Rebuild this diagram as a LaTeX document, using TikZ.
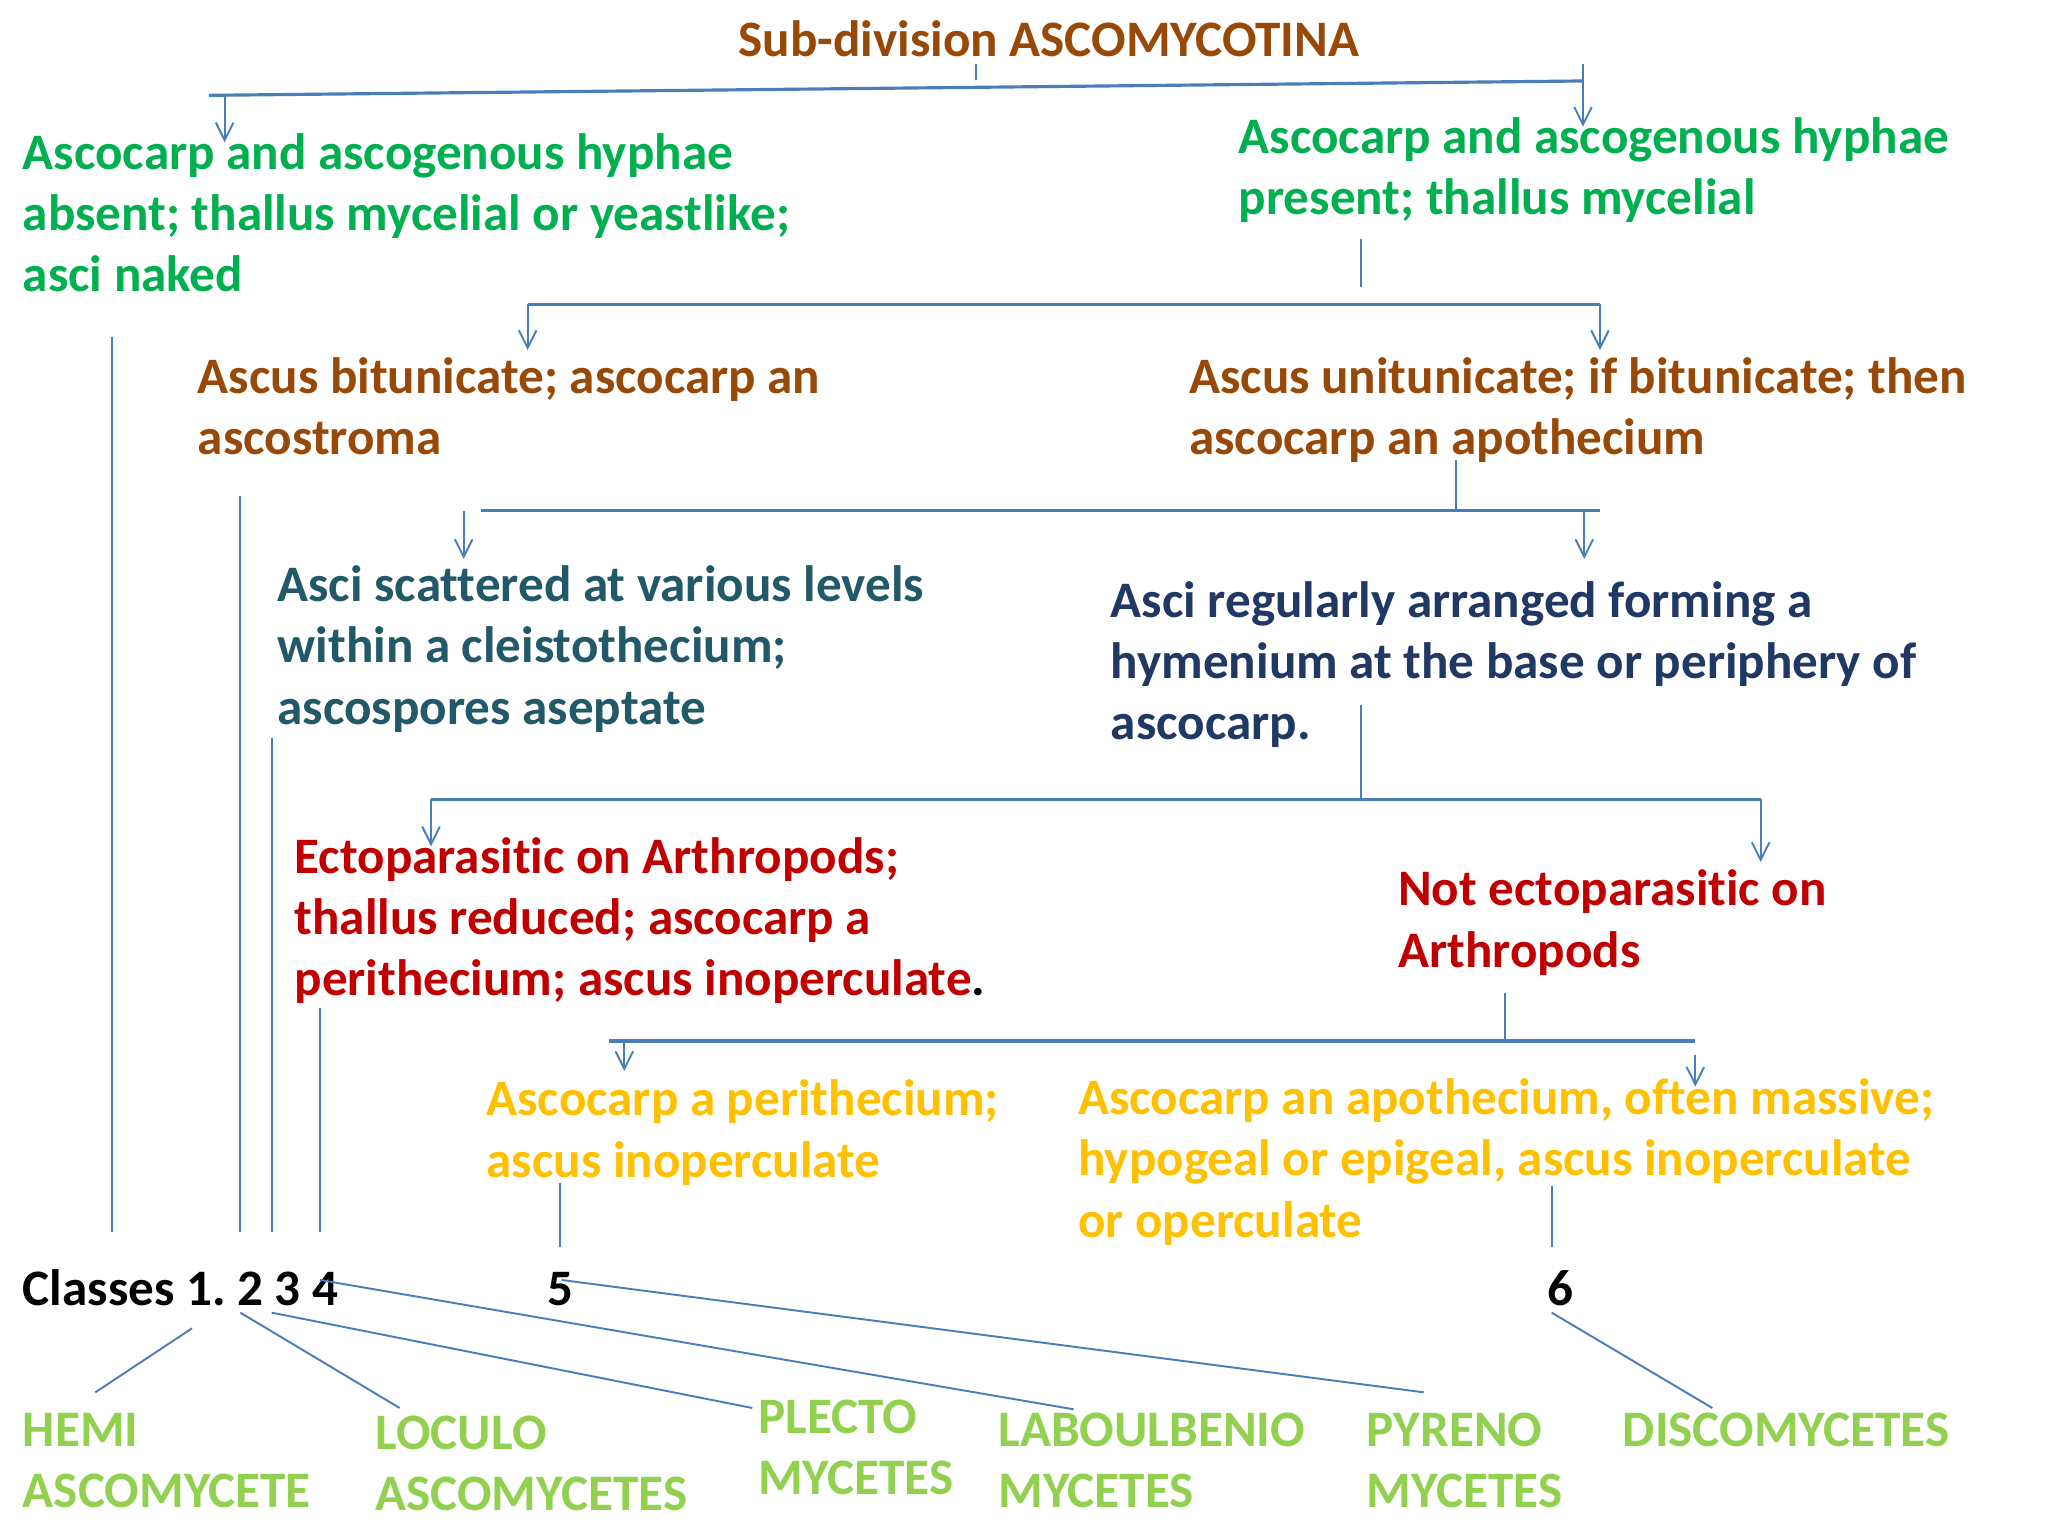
\documentclass[tikz,border=0pt]{standalone}
\usepackage{fontspec}
\setmainfont{Carlito}[Ligatures=NoCommon]
\usetikzlibrary{arrows.meta}
\definecolor{cbrown}{HTML}{984807}
\definecolor{cgreen}{HTML}{00B050}
\definecolor{cteal}{HTML}{215968}
\definecolor{cnavy}{HTML}{1F3864}
\definecolor{cred}{HTML}{C00000}
\definecolor{cyel}{HTML}{FFC000}
\definecolor{clgreen}{HTML}{92D050}
\definecolor{cline}{HTML}{4A7EBB}
\newcommand\fs{\fontsize{14.55pt}{17.45pt}\selectfont\bfseries\frenchspacing}
\tikzset{
  txt/.style={anchor=north west, inner sep=0pt, align=left, font=\fs},
  hline/.style={draw=cline, line width=0.9pt},
  vline/.style={draw=cline, line width=0.55pt},
  arr/.style={draw=cline, line width=0.55pt, -{Straight Barb[length=5pt,width=5pt]}},
}
\begin{document}
\begin{tikzpicture}[x=0.01306cm, y=-0.01306cm]
\useasboundingbox[fill=white] (0,0) rectangle (1568,1176);

% text nodes (north = line-1 centre - 22)
\node[txt, text=cbrown] (title) at (565,10) {\strut Sub-division ASCOMYCOTINA};
\node[txt, text=cgreen] (g1) at (17,96) {\strut Ascocarp and ascogenous hyphae\\absent; thallus mycelial or yeastlike;\\asci naked};
\node[txt, text=cgreen] (g2) at (948,84) {\strut Ascocarp and ascogenous hyphae\\present; thallus mycelial};
\node[txt, text=cbrown] (b1) at (151,268) {\strut Ascus bitunicate; ascocarp an\\ascostroma};
\node[txt, text=cbrown] (b2) at (910,268) {\strut Ascus unitunicate; if bitunicate; then\\ascocarp an apothecium};
\node[txt, text=cteal] (s1) at (212,427) {\strut Asci scattered at various levels\\within a cleistothecium;\\ascospores aseptate};
\node[txt, text=cnavy] (s2) at (850,439) {\strut Asci regularly arranged forming a\\hymenium at the base or periphery of\\ascocarp.};
\node[txt, text=cred] (r1) at (225,635) {\strut Ectoparasitic on Arthropods;\\thallus reduced; ascocarp a\\perithecium; ascus inoperculate{\color{black}.}};
\node[txt, text=cred] (r2) at (1070,660) {\strut Not ectoparasitic on\\Arthropods};
\node[txt, text=cyel] (y1) at (372,821) {\strut Ascocarp a perithecium;\\ascus inoperculate};
\node[txt, text=cyel] (y2) at (825,820) {\strut Ascocarp an apothecium, often massive;\\hypogeal or epigeal, ascus inoperculate\\or operculate};

\node[txt, text=black] (cls) at (17,966) {\strut Classes 1. 2 3 4};
\node[txt, text=black] (c5) at (419,966) {\strut 5};
\node[txt, text=black] (c6) at (1184,966) {\strut 6};

\node[txt, text=clgreen] (hemi) at (17,1074) {\strut HEMI\\ASCOMYCETE};
\node[txt, text=clgreen] (loculo) at (287,1076) {\strut LOCULO\\ASCOMYCETES};
\node[txt, text=clgreen] (plecto) at (580,1064) {\strut PLECTO\\MYCETES};
\node[txt, text=clgreen] (laboul) at (764,1074) {\strut LABOULBENIO\\MYCETES};
\node[txt, text=clgreen] (pyreno) at (1046,1074) {\strut PYRENO\\MYCETES};
\node[txt, text=clgreen] (disco) at (1242,1074) {\strut DISCOMYCETES};

% coordinates for connectors
\coordinate (t0a) at (747,49); \coordinate (t0b) at (747,61);
\coordinate (h0l) at (160,73); \coordinate (h0r) at (1212,62);
\coordinate (a1s) at (172,73); \coordinate (a1e) at (172,109);
\coordinate (a2s) at (1212,49); \coordinate (a2e) at (1212,97);

\coordinate (g2d) at (1042,183); \coordinate (g2j) at (1042,220);
\coordinate (h1l) at (404,233); \coordinate (h1r) at (1225,233);
\coordinate (a3e) at (404,268); \coordinate (a4e) at (1225,268);

\coordinate (b2d) at (1115,352); \coordinate (b2j) at (1115,391);
\coordinate (h2l) at (368,391); \coordinate (h2r) at (1225,391);
\coordinate (a5s) at (355,391); \coordinate (a5e) at (355,428);
\coordinate (a6s) at (1213,391); \coordinate (a6e) at (1213,428);

\coordinate (s2d) at (1042,540); \coordinate (s2j) at (1042,612);
\coordinate (h3l) at (330,612); \coordinate (h3r) at (1348,612);
\coordinate (a7e) at (330,648); \coordinate (a8e) at (1348,660);

\coordinate (r2d) at (1152,760); \coordinate (r2j) at (1152,797);
\coordinate (h4l) at (466,797); \coordinate (h4r) at (1298,797);
\coordinate (a9s) at (478,797); \coordinate (a9e) at (478,820);
\coordinate (a10s) at (1298,808); \coordinate (a10e) at (1298,832);

\coordinate (v1s) at (86,258); \coordinate (v1e) at (86,943);
\coordinate (v2s) at (184,380); \coordinate (v2e) at (184,943);
\coordinate (v3s) at (208,565); \coordinate (v3e) at (208,943);
\coordinate (v4s) at (245,772); \coordinate (v4e) at (245,943);
\coordinate (v5s) at (429,906); \coordinate (v5e) at (429,955);
\coordinate (v6s) at (1188,908); \coordinate (v6e) at (1188,955);

\coordinate (d1s) at (147,1017); \coordinate (d1e) at (73,1066);
\coordinate (d2s) at (184,1005); \coordinate (d2e) at (306,1078);
\coordinate (d3s) at (208,1005); \coordinate (d3e) at (576,1078);
\coordinate (d4s) at (245,980); \coordinate (d4e) at (822,1079);
\coordinate (d5s) at (430,980); \coordinate (d5e) at (1090,1066);
\coordinate (d6s) at (1188,1005); \coordinate (d6e) at (1311,1078);

% connectors
\draw[vline] (t0a) -- (t0b);
\draw[hline] (h0l) -- (h0r);
\draw[arr] (a1s) -- (a1e);
\draw[arr] (a2s) -- (a2e);

\draw[vline] (g2d) -- (g2j);
\draw[hline] (h1l) -- (h1r);
\draw[arr] (h1l) -- (a3e);
\draw[arr] (h1r) -- (a4e);

\draw[vline] (b2d) -- (b2j);
\draw[hline] (h2l) -- (h2r);
\draw[arr] (a5s) -- (a5e);
\draw[arr] (a6s) -- (a6e);

\draw[vline] (s2d) -- (s2j);
\draw[hline] (h3l) -- (h3r);
\draw[arr] (h3l) -- (a7e);
\draw[arr] (h3r) -- (a8e);

\draw[vline] (r2d) -- (r2j);
\draw[hline] (h4l) -- (h4r);
\draw[arr] (a9s) -- (a9e);
\draw[arr] (a10s) -- (a10e);

\draw[vline] (v1s) -- (v1e);
\draw[vline] (v2s) -- (v2e);
\draw[vline] (v3s) -- (v3e);
\draw[vline] (v4s) -- (v4e);
\draw[vline] (v5s) -- (v5e);
\draw[vline] (v6s) -- (v6e);

\draw[vline] (d1s) -- (d1e);
\draw[vline] (d2s) -- (d2e);
\draw[vline] (d3s) -- (d3e);
\draw[vline] (d4s) -- (d4e);
\draw[vline] (d5s) -- (d5e);
\draw[vline] (d6s) -- (d6e);
\end{tikzpicture}
\end{document}
